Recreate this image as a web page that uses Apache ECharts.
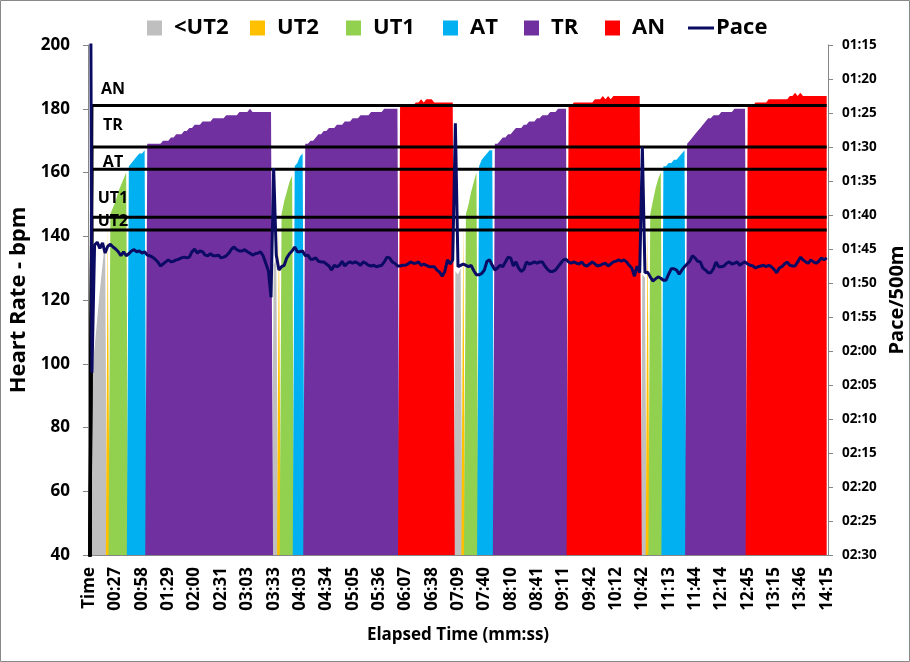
<!DOCTYPE html>
<html><head><meta charset="utf-8">
<script src="https://cdn.jsdelivr.net/npm/echarts@6/dist/echarts.min.js"></script>
<style>html,body{margin:0;padding:0;background:#fff;overflow:hidden}#c{width:910px;height:662px}</style>
</head><body><div id="c"></div><script>
// x-axis tick labels (every 10th sample; first row is the "Time" header)
const timeLabels = ['Time','00:27','00:58','01:29','02:00','02:31','03:03','03:33','04:03','04:34','05:05','05:36','06:07','06:38','07:09','07:40','08:10','08:41','09:11','09:42','10:12','10:42','11:13','11:44','12:14','12:45','13:15','13:46','14:15'];
const zoneNames = ['<UT2','UT2','UT1','AT','TR','AN'];
const zoneColors = ['#BFBFBF','#FFC000','#92D050','#00B0F0','#7030A0','#FF0000'];
const thresholdNames = ['AN','TR','AT','UT1','UT2'];
const thresholdValues = [181,168,161,146,142];
// heart rate per sample (bpm); index 0 is the header row
const heartRate = [null,
97,105,114,123,131,139,
144,
147,149,151,154,156,158,160,
162,163,164,165,166,166,167,
169,169,169,169,169,169,170,170,170,171,171,172,172,172,173,173,174,174,175,175,175,176,176,176,176,177,177,177,177,177,178,178,178,178,178,179,179,179,179,180,179,179,179,179,179,179,179,179,
131,133,
144,
147,151,154,157,159,
162,163,165,166,
169,169,170,170,171,172,172,173,173,174,174,174,175,175,175,176,176,176,177,177,177,178,178,178,178,179,179,179,179,179,180,180,180,180,180,180,
181,181,181,181,181,181,182,182,183,182,183,183,183,182,182,182,182,182,182,182,182,
129,128,130,
144,
147,150,154,157,160,
162,164,165,166,167,167,
169,169,170,171,171,172,172,173,174,174,174,175,175,176,176,176,177,177,178,178,178,179,179,179,180,180,180,180,
181,181,182,182,182,182,182,182,182,182,183,183,183,184,183,184,183,184,184,184,184,184,184,184,184,184,184,184,
128,127,
144,
147,151,155,158,160,
162,162,163,163,164,164,165,166,167,
169,170,171,172,173,174,175,176,177,177,178,178,178,179,179,179,179,179,180,180,180,180,180,
181,181,181,182,182,182,182,182,183,183,183,183,183,183,183,183,184,184,185,184,185,184,184,184,184,184,184,184,184,184,184];
// pace per sample (seconds per 500m); index 0 is the header row (reads as 0)
const pace = [0,
123.2,104.4,104.0,104.9,104.1,105.6,104.6,104.3,104.7,105.0,
105.4,106.0,105.4,106.0,105.7,105.3,105.1,105.4,105.3,105.6,
105.4,105.9,106.0,106.2,106.5,106.9,107.5,107.2,106.9,106.6,
106.9,106.8,106.6,106.5,106.3,106.2,106.3,106.2,105.4,105.0,
105.6,105.3,105.4,105.9,106.0,105.7,106.0,106.0,105.9,106.3,
106.2,106.0,105.6,105.0,104.7,105.1,105.3,105.3,105.1,105.4,
105.6,105.9,105.7,105.6,105.4,106.0,107.1,108.2,112.1,93.1,
105.9,108.1,107.6,107.4,106.3,105.7,105.3,104.7,105.4,105.4,
105.3,106.0,105.9,106.5,106.5,106.3,106.8,106.9,106.9,107.2,
107.5,108.1,107.4,107.6,107.4,106.8,107.5,107.1,106.9,107.1,
106.9,107.1,107.4,106.9,107.1,107.4,107.5,107.4,107.6,107.5,
107.4,106.9,106.2,106.3,106.9,107.1,107.5,107.5,107.4,107.4,
107.2,106.9,107.1,107.1,106.9,107.4,107.2,107.4,107.6,107.6,
107.6,108.1,108.4,109.0,108.3,106.6,107.2,106.6,86.5,107.6,
107.4,107.2,107.4,107.6,107.4,108.2,108.8,108.8,108.6,108.1,
106.8,106.6,107.4,108.1,107.8,107.4,107.6,106.9,106.2,106.3,
107.5,106.9,107.8,108.3,108.0,106.9,107.2,107.1,106.9,107.1,
106.9,106.9,107.5,108.0,108.3,108.3,108.1,107.6,107.1,106.6,
106.5,106.9,107.1,106.9,107.1,107.2,106.9,107.4,107.5,107.2,
106.9,107.2,107.5,107.4,107.2,107.1,107.5,107.2,106.9,106.8,
106.6,106.8,106.6,106.9,107.4,107.8,109.0,107.5,108.5,90.0,
108.5,108.4,109.1,109.7,109.4,109.1,109.3,109.6,109.6,108.7,
107.9,107.9,108.1,108.7,108.1,107.6,107.2,106.8,106.0,106.3,
106.8,106.9,107.8,108.1,108.5,108.5,107.9,106.9,107.6,107.6,
107.5,107.1,106.9,107.2,107.1,106.9,107.4,107.1,106.9,107.2,
107.4,107.5,107.8,107.6,107.5,107.4,107.6,107.4,107.6,108.0,
108.5,107.8,107.6,107.2,106.9,107.4,107.5,107.5,106.9,106.2,
106.6,106.9,107.1,106.6,106.9,107.1,106.8,106.3,106.6,106.3];

const FONT = 'Open Sans';
const categories = heartRate.map((_, i) => String(i));
const zoneLower = [0].concat(thresholdValues.slice().reverse());
function zoneOf(h){ let z = 0; for (let k = 0; k < zoneLower.length; k++) if (h >= zoneLower[k]) z = k; return z; }
const labelIndex = 9;
const labelOffsets = [-8, -14, 1, -11, 0];
const legendLefts = [147, 250, 346, 443, 524, 605];
const paceLegendLeft = 688;

const series = [];
zoneNames.forEach((n, z) => {
  series.push({
    name: n, type: 'line', symbol: 'none', silent: true, z: 2,
    data: heartRate.map(h => (h != null && zoneOf(h) === z) ? h : 0),
    lineStyle: { width: 0, opacity: 0 },
    itemStyle: { color: zoneColors[z] },
    areaStyle: { color: zoneColors[z], opacity: 1, origin: 'start' }
  });
});
thresholdNames.forEach((n, k) => {
  series.push({
    name: n + ' line', type: 'line', symbol: 'none', silent: true, z: 4,
    data: heartRate.map((_, i) => i === 0 ? 0 : thresholdValues[k]),
    lineStyle: { color: '#000', width: 3 }, itemStyle: { color: '#000' }
  });
});
series.push({
  name: 'zone labels', type: 'scatter', symbolSize: 0, silent: true, z: 6,
  itemStyle: { opacity: 1, color: '#000' },
  data: thresholdNames.map((n, k) => ({ name: n, value: [labelIndex, thresholdValues[k]], label: { offset: [0, labelOffsets[k]] } })),
  label: { show: true, formatter: '{b}', position: 'top', distance: 0, color: '#000', opacity: 1, fontWeight: 'bold', fontSize: 16, fontFamily: FONT }
});
series.push({
  name: 'Pace', type: 'line', yAxisIndex: 1, symbol: 'none', silent: true, z: 5,
  data: pace, lineStyle: { color: '#0B0B63', width: 3 }, itemStyle: { color: '#0B0B63' }
});

function mmss(v){ const m = Math.floor(v / 60), s = Math.round(v % 60); return String(m).padStart(2,'0') + ':' + String(s).padStart(2,'0'); }

const legendText = { fontSize: 22, fontWeight: 'bold', color: '#000', fontFamily: FONT };
const legends = zoneNames.map((n, z) => ({
  left: legendLefts[z], top: 17, padding: 0, itemWidth: 15, itemHeight: 15,
  data: [{ name: n, icon: 'rect' }],
  textStyle: Object.assign({ padding: [0, 0, 0, 7] }, legendText)
}));
legends.push({ left: paceLegendLeft, top: 17, padding: 0, itemWidth: 26, itemHeight: 3,
  data: [{ name: 'Pace', icon: 'rect' }], textStyle: Object.assign({ padding: [0, 0, 0, -3] }, legendText) });

const chart = echarts.init(document.getElementById('c'), null, { renderer: 'canvas' });
chart.setOption({
  animation: false,
  backgroundColor: '#fff',
  textStyle: { fontFamily: FONT },
  graphic: [{ type: 'rect', shape: { x: 0.5, y: 0.5, width: 909, height: 661 }, style: { fill: 'none', stroke: '#888', lineWidth: 1 }, silent: true }],
  legend: legends,
  grid: { left: 88, right: 82, top: 45, bottom: 107, containLabel: false, outerBoundsMode: 'none' },
  xAxis: {
    type: 'category', data: categories, boundaryGap: true,
    axisLine: { lineStyle: { color: '#868686' } },
    axisTick: { interval: 0, length: 5, lineStyle: { color: '#868686' } },
    axisLabel: { interval: 9, rotate: 90, margin: 12, color: '#000', fontWeight: 'bold', fontSize: 17, fontFamily: FONT,
      formatter: (v, idx) => timeLabels[Math.round(idx / 10)] },
    name: 'Elapsed Time (mm:ss)', nameLocation: 'middle', nameGap: 72,
    nameTextStyle: { color: '#000', fontWeight: 'bold', fontSize: 17, fontFamily: FONT }
  },
  yAxis: [
    { type: 'value', min: 40, max: 200, interval: 20, position: 'left',
      axisLine: { show: true, lineStyle: { color: '#868686' } },
      axisTick: { show: true, length: 5, lineStyle: { color: '#868686' } },
      splitLine: { show: false },
      axisLabel: { margin: 18, color: '#000', fontWeight: 'bold', fontSize: 17, fontFamily: FONT },
      name: 'Heart Rate - bpm', nameLocation: 'middle', nameGap: 56, nameRotate: 90,
      nameTextStyle: { color: '#000', fontWeight: 'bold', fontSize: 22, fontFamily: FONT } },
    { type: 'value', min: 75, max: 150, interval: 5, position: 'right', inverse: true,
      axisLine: { show: true, lineStyle: { color: '#868686' } },
      axisTick: { show: true, length: 5, lineStyle: { color: '#868686' } },
      splitLine: { show: false },
      axisLabel: { margin: 14, color: '#000', fontWeight: 'bold', fontSize: 13.5, fontFamily: FONT, formatter: mmss },
      name: 'Pace/500m', nameLocation: 'middle', nameGap: 56, nameRotate: 90,
      nameTextStyle: { color: '#000', fontWeight: 'bold', fontSize: 20, fontFamily: FONT } }
  ],
  series: series
});
</script></body></html>
